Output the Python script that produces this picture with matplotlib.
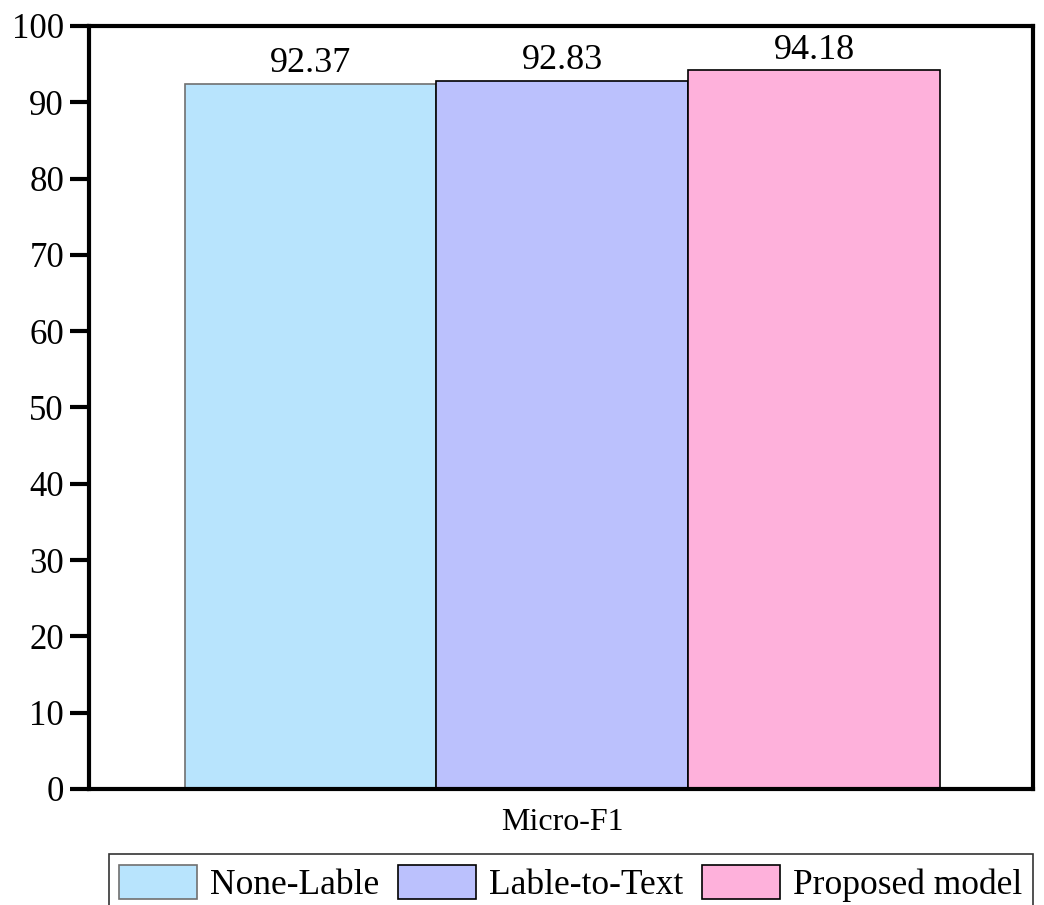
import matplotlib
matplotlib.use('Agg')
import matplotlib.pyplot as plt

models = ['None-Lable', 'Lable-to-Text', 'Proposed model']
scores = [92.37, 92.83, 94.18]
colors = ['#B8E4FD', '#BBC1FD', '#FEB1DB']
edges = ['#707070', 'black', 'black']
metric = 'Micro-F1'

plt.rcParams['font.family'] = 'Liberation Serif'

fig = plt.figure(figsize=(10.44, 9.05), dpi=100)
ax = fig.add_axes([0.0853, 0.1282, 0.9042, 0.8431])

xs = range(len(models))
bars = ax.bar(xs, scores, width=1.0, color=colors, edgecolor=edges, linewidth=1.2,
              label=models)
for x, v in zip(xs, scores):
    ax.text(x, v + 0.5, f'{v:.2f}', ha='center', va='bottom', fontsize=26)

ax.set_xlim(-0.88, 2.87)
ax.set_ylim(0, 100)
ax.set_yticks(range(0, 101, 10))
ax.set_xticks([1])
ax.set_xticklabels([metric])
ax.tick_params(axis='y', labelsize=25, width=3, length=14, direction='out', pad=4)
ax.tick_params(axis='x', labelsize=23, length=0, pad=14)
for s in ax.spines.values():
    s.set_linewidth(3)

leg = fig.legend(bars, models, loc='lower right', bbox_to_anchor=(0.989, -0.008),
                 ncol=3, fontsize=25.5, frameon=True, fancybox=False, edgecolor='black',
                 handlelength=2.2, handleheight=1.1, columnspacing=0.55,
                 handletextpad=0.35, borderpad=0.3, borderaxespad=0)
leg.get_frame().set_linewidth(1.2)

fig.savefig('out.png', dpi=100)
